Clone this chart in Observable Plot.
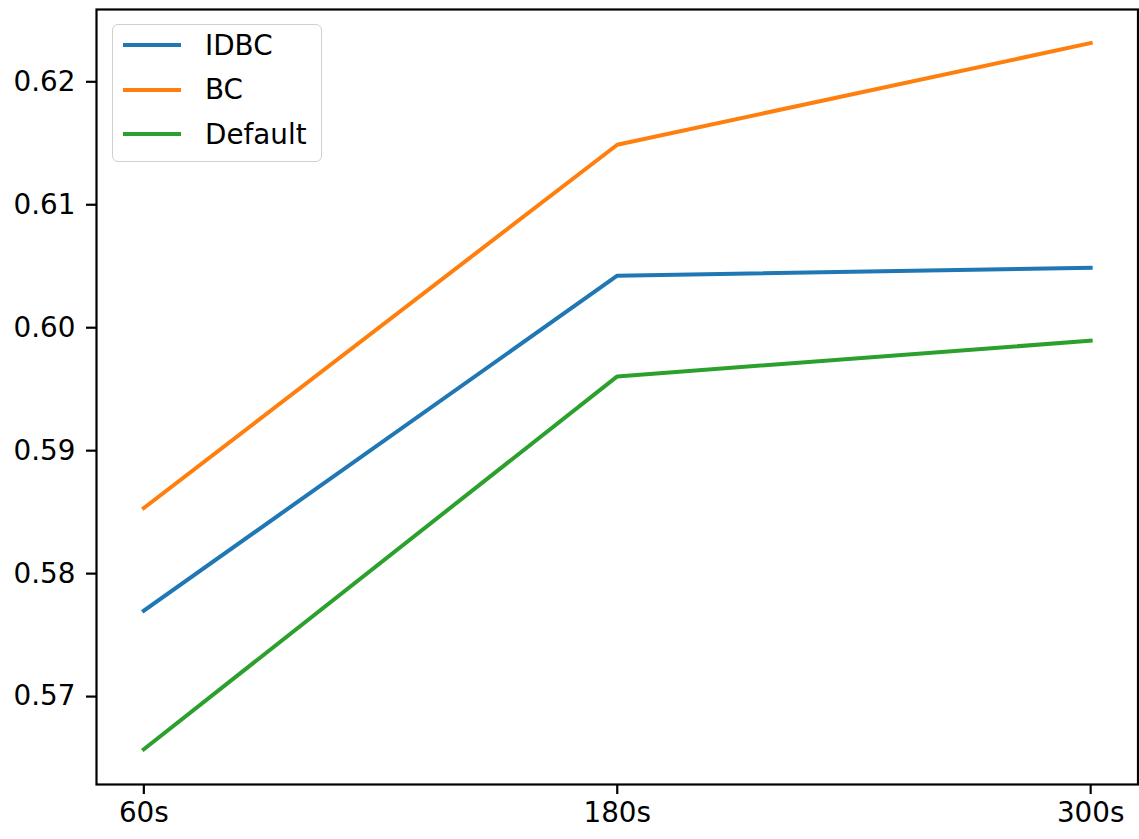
<!DOCTYPE html>
<html>
<head>
<meta charset="utf-8">
<script src="https://cdn.jsdelivr.net/npm/d3@7"></script>
<script src="https://cdn.jsdelivr.net/npm/@observablehq/plot@0.6"></script>
<style>
  html, body { margin: 0; padding: 0; background: #fff; }
  #wrap { position: relative; width: 1139px; height: 839px; font-family: "DejaVu Sans", sans-serif; }
  #legend {
    position: absolute; left: 112px; top: 24px; width: 210px; height: 138px;
    border: 1.5px solid #d0d0d0; border-radius: 6px; background: rgba(255,255,255,0.8);
    box-sizing: border-box; padding-top: 0px;
  }
  .row { display: flex; align-items: center; height: 44.5px; font-size: 27.8px; color: #000; }
  .row:first-child { margin-top: -2px; }
  .sw { width: 58px; height: 4px; margin-left: 10px; margin-right: 24px; }
</style>
</head>
<body>
<div id="wrap"><div id="legend"></div></div>
<script>
const categories = ["60s", "180s", "300s"];
const seriesNames = ["IDBC", "BC", "Default"];
const IDBC = [0.57699, 0.60423, 0.60488];
const BC = [0.58534, 0.61488, 0.62315];
const Default = [0.56572, 0.59604, 0.59894];
const colors = ["#1f77b4", "#ff7f0e", "#2ca02c"];
const yTicks = [0.57, 0.58, 0.59, 0.60, 0.61, 0.62];

const valuesBySeries = {IDBC, BC, Default};
const data = seriesNames.flatMap(s => categories.map((c, i) => ({series: s, idx: i, cat: c, value: valuesBySeries[s][i]})));

const font = "DejaVu Sans, sans-serif";
const chart = Plot.plot({
  width: 1139,
  height: 839,
  marginLeft: 96,
  marginRight: 1.5,
  marginTop: 9,
  marginBottom: 55,
  style: {fontFamily: font, fontSize: "27.8px", color: "#000", background: "#fff"},
  x: {domain: [-0.1, 2.1], ticks: [0, 1, 2], tickFormat: i => categories[i], label: null},
  y: {domain: [0.56285, 0.62588], ticks: yTicks, tickFormat: d3.format(".2f"), label: null},
  color: {domain: seriesNames, range: colors},
  marks: [
    Plot.axisX({ticks: [0, 1, 2], tickFormat: i => categories[i], tickSize: 10, tickPadding: 8, strokeWidth: 2.2, label: null, fontSize: 27.8}),
    Plot.axisY({ticks: yTicks, tickFormat: d3.format(".2f"), tickSize: 10, tickPadding: 11, strokeWidth: 2.2, label: null, fontSize: 27.8}),
    Plot.line(data, {x: "idx", y: "value", z: "series", stroke: "series", strokeWidth: 4, strokeLinecap: "square"}),
    Plot.frame({stroke: "#000", strokeWidth: 2.2})
  ]
});
document.getElementById("wrap").prepend(chart);
chart.style.position = "absolute";
chart.style.left = "0";
chart.style.top = "0";

const legend = document.getElementById("legend");
seriesNames.forEach((s, i) => {
  const row = document.createElement("div");
  row.className = "row";
  const sw = document.createElement("div");
  sw.className = "sw";
  sw.style.background = colors[i];
  const t = document.createElement("span");
  t.textContent = s;
  row.appendChild(sw);
  row.appendChild(t);
  legend.appendChild(row);
});
</script>
</body>
</html>
